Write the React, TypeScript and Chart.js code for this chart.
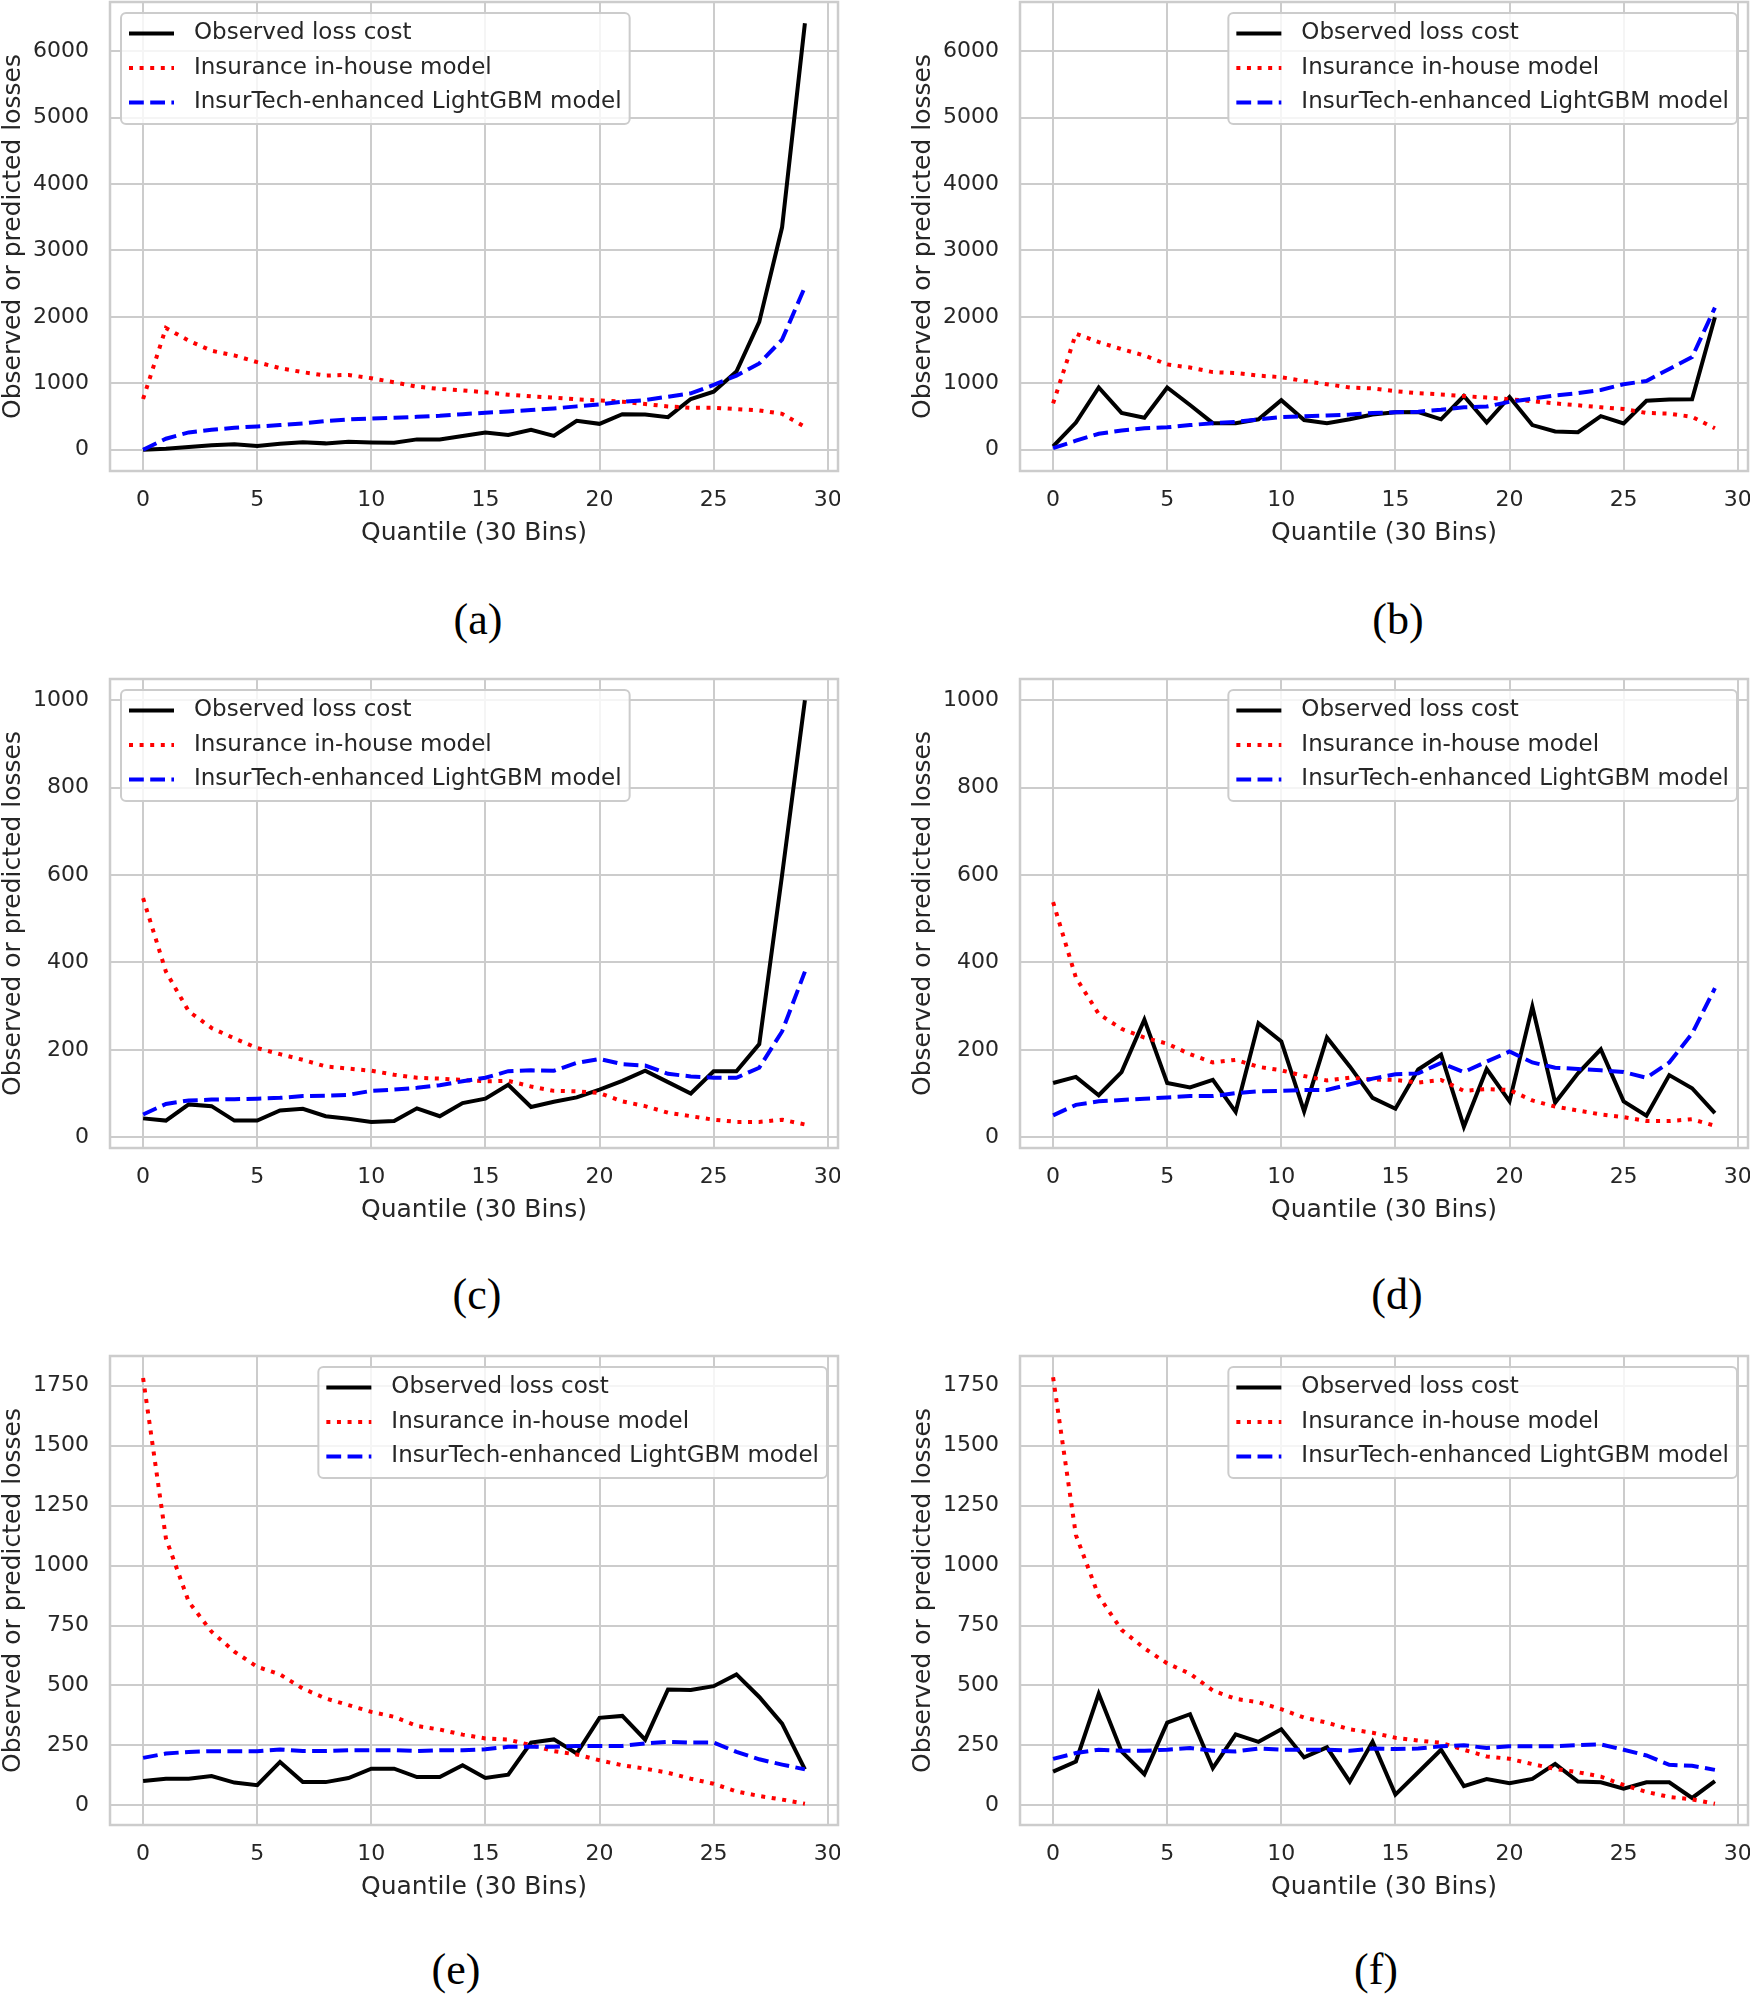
import React, { useEffect, useRef } from 'react';
import { Chart, registerables } from 'chart.js';

Chart.register(...registerables);

// ---------- data ----------
const QUANTILES = [0, 1, 2, 3, 4, 5, 6, 7, 8, 9, 10, 11, 12, 13, 14, 15, 16, 17, 18, 19, 20, 21, 22, 23, 24, 25, 26, 27, 28, 29];
const X_TICKS = [0, 5, 10, 15, 20, 25, 30];
const Y_TICKS_ROW1 = [0, 1000, 2000, 3000, 4000, 5000, 6000];
const Y_TICKS_ROW2 = [0, 200, 400, 600, 800, 1000];
const Y_TICKS_ROW3 = [0, 250, 500, 750, 1000, 1250, 1500, 1750];

const SERIES_LABELS = ['Observed loss cost', 'Insurance in-house model', 'InsurTech-enhanced LightGBM model'];
const CAPTIONS = ['(a)', '(b)', '(c)', '(d)', '(e)', '(f)'];

// (a)
const obsA = [0, 15, 40, 65, 80, 55, 90, 110, 95, 120, 110, 105, 155, 155, 205, 257, 222, 298, 207, 434, 389, 535, 530, 490, 763, 873, 1177, 1924, 3348, 6420];
const inhouseA = [763, 1833, 1641, 1490, 1419, 1318, 1227, 1167, 1116, 1126, 1076, 1015, 949, 914, 894, 864, 828, 803, 783, 758, 742, 722, 687, 652, 631, 631, 611, 591, 540, 343];
const lgbmA = [0, 165, 260, 300, 330, 350, 370, 395, 430, 455, 470, 480, 495, 510, 535, 556, 576, 596, 621, 652, 682, 722, 747, 798, 848, 975, 1116, 1298, 1657, 2449];
// (b)
const obsB = [50, 409, 937, 553, 481, 937, 673, 399, 399, 457, 745, 447, 399, 457, 529, 563, 567, 457, 808, 409, 793, 370, 274, 264, 505, 394, 736, 755, 760, 1995];
const inhouseB = [697, 1745, 1620, 1514, 1418, 1284, 1236, 1168, 1154, 1115, 1091, 1034, 986, 937, 923, 880, 851, 832, 808, 784, 760, 731, 697, 668, 639, 611, 553, 543, 495, 322];
const lgbmB = [24, 135, 240, 288, 322, 337, 370, 399, 418, 457, 490, 505, 514, 529, 553, 563, 572, 601, 639, 649, 721, 769, 817, 851, 899, 986, 1034, 1216, 1394, 2139];
// (c)
const obsC = [43, 38, 75, 71, 38, 38, 61, 65, 48, 42, 35, 37, 66, 48, 78, 88, 120, 69, 81, 91, 109, 129, 152, 126, 100, 151, 151, 213, 600, 1000];
const inhouseC = [547, 379, 288, 250, 226, 204, 190, 177, 162, 157, 152, 143, 136, 134, 131, 128, 129, 116, 106, 105, 101, 82, 71, 56, 48, 40, 35, 35, 40, 29];
const lgbmC = [52, 76, 84, 86, 87, 88, 90, 94, 95, 97, 106, 109, 113, 119, 128, 136, 151, 153, 152, 170, 179, 167, 164, 145, 139, 136, 136, 159, 242, 379];
// (d)
const obsD = [124, 138, 96, 149, 269, 124, 114, 131, 58, 261, 219, 59, 228, 162, 90, 65, 155, 189, 24, 156, 82, 299, 79, 146, 201, 82, 49, 142, 112, 55];
const inhouseD = [538, 365, 282, 248, 228, 214, 190, 171, 177, 161, 153, 140, 130, 136, 132, 131, 125, 131, 106, 110, 108, 84, 70, 61, 52, 46, 37, 37, 41, 26];
const lgbmD = [50, 74, 82, 85, 88, 91, 94, 94, 101, 105, 106, 108, 108, 121, 134, 144, 146, 170, 149, 173, 196, 171, 159, 156, 153, 149, 136, 171, 237, 341];
// (e)
const obsE = [102, 111, 111, 122, 95, 84, 181, 97, 97, 114, 153, 153, 118, 118, 167, 114, 128, 262, 275, 216, 365, 373, 274, 483, 481, 497, 546, 452, 341, 150];
const inhouseE = [1782, 1114, 849, 724, 641, 578, 546, 487, 446, 418, 390, 369, 331, 316, 295, 279, 274, 251, 226, 212, 188, 167, 153, 136, 111, 90, 58, 39, 24, 7];
const lgbmE = [198, 216, 223, 226, 226, 226, 233, 227, 227, 230, 230, 230, 227, 230, 230, 234, 244, 244, 244, 248, 248, 248, 258, 265, 262, 262, 223, 192, 170, 150];
// (f)
const obsF = [141, 183, 465, 225, 130, 345, 380, 155, 296, 265, 317, 200, 242, 99, 265, 45, 138, 232, 80, 110, 92, 110, 173, 99, 96, 70, 96, 96, 31, 101];
const inhouseF = [1785, 1127, 873, 732, 655, 592, 549, 479, 444, 430, 401, 366, 345, 317, 303, 282, 270, 261, 232, 204, 194, 172, 152, 138, 120, 85, 56, 35, 25, 7];
const lgbmF = [194, 218, 232, 228, 228, 232, 239, 228, 225, 237, 232, 232, 232, 228, 237, 235, 237, 246, 251, 239, 246, 246, 246, 251, 254, 232, 208, 169, 165, 148];

// ---------- style / layout ----------
const FONT = '"DejaVu Sans", "Liberation Sans", sans-serif';
const TEXT = '#262626';
const GRID = '#cccccc';
const LW = 4;
const CANVAS_W = 840;
const CANVAS_H = 580;
const ROW_TOPS = [0, 677, 1354];
const COL_LEFTS = [0, 910];
const CAPTION_X = [478, 1398, 477, 1397, 456, 1376];
const CAPTION_Y = [620, 1295, 1970];

function limits(arrs: number[][]): [number, number] {
  const all = arrs.flat();
  const lo = Math.min(...all);
  const hi = Math.max(...all);
  const m = (hi - lo) * 0.05;
  return [lo - m, hi + m];
}

const ROW_LIMITS = [
  limits([obsA, inhouseA, lgbmA, obsB, inhouseB, lgbmB]),
  limits([obsC, inhouseC, lgbmC, obsD, inhouseD, lgbmD]),
  limits([obsE, inhouseE, lgbmE, obsF, inhouseF, lgbmF]),
];
const ROW_TICKS = [Y_TICKS_ROW1, Y_TICKS_ROW2, Y_TICKS_ROW3];
const X_LIMITS: [number, number] = [
  QUANTILES[0] - (QUANTILES[QUANTILES.length - 1] - QUANTILES[0]) * 0.05,
  QUANTILES[QUANTILES.length - 1] + (QUANTILES[QUANTILES.length - 1] - QUANTILES[0]) * 0.05,
];

type PanelDef = { obs: number[]; inhouse: number[]; lgbm: number[]; row: number; col: number; loc: string };
const PANELS: PanelDef[] = [
  { obs: obsA, inhouse: inhouseA, lgbm: lgbmA, row: 0, col: 0, loc: 'upper left' },
  { obs: obsB, inhouse: inhouseB, lgbm: lgbmB, row: 0, col: 1, loc: 'upper right' },
  { obs: obsC, inhouse: inhouseC, lgbm: lgbmC, row: 1, col: 0, loc: 'upper left' },
  { obs: obsD, inhouse: inhouseD, lgbm: lgbmD, row: 1, col: 1, loc: 'upper right' },
  { obs: obsE, inhouse: inhouseE, lgbm: lgbmE, row: 2, col: 0, loc: 'upper right' },
  { obs: obsF, inhouse: inhouseF, lgbm: lgbmF, row: 2, col: 1, loc: 'upper right' },
];

// spines + matplotlib-style legend inside the axes
const mplDecor = {
  id: 'mplDecor',
  afterDatasetsDraw(chart: any, _args: any, opts: any) {
    const { ctx, chartArea: a } = chart;
    ctx.save();
    ctx.setLineDash([]);
    ctx.strokeStyle = GRID;
    ctx.lineWidth = 2.5;
    ctx.strokeRect(a.left, a.top, a.right - a.left, a.bottom - a.top);

    ctx.font = `23px ${FONT}`;
    const ds = chart.data.datasets;
    const maxW = Math.max(...ds.map((d: any) => ctx.measureText(d.label).width));
    const textX0 = 73;
    const bw = textX0 + maxW + 8;
    const bh = 111;
    const bx = opts.loc === 'upper left' ? a.left + 11 : a.right - 11 - bw;
    const by = a.top + 11;
    const r = 5;
    ctx.beginPath();
    ctx.moveTo(bx + r, by);
    ctx.lineTo(bx + bw - r, by);
    ctx.arcTo(bx + bw, by, bx + bw, by + r, r);
    ctx.lineTo(bx + bw, by + bh - r);
    ctx.arcTo(bx + bw, by + bh, bx + bw - r, by + bh, r);
    ctx.lineTo(bx + r, by + bh);
    ctx.arcTo(bx, by + bh, bx, by + bh - r, r);
    ctx.lineTo(bx, by + r);
    ctx.arcTo(bx, by, bx + r, by, r);
    ctx.closePath();
    ctx.fillStyle = 'rgba(255,255,255,0.8)';
    ctx.fill();
    ctx.strokeStyle = GRID;
    ctx.lineWidth = 2;
    ctx.stroke();

    ds.forEach((d: any, i: number) => {
      const y = by + 20.5 + i * 34.5;
      ctx.beginPath();
      ctx.setLineDash(d.borderDash || []);
      ctx.lineDashOffset = 0;
      ctx.lineCap = 'butt';
      ctx.strokeStyle = d.borderColor;
      ctx.lineWidth = d.borderWidth;
      ctx.moveTo(bx + 8, y);
      ctx.lineTo(bx + 53, y);
      ctx.stroke();
      ctx.setLineDash([]);
      ctx.fillStyle = TEXT;
      ctx.textBaseline = 'middle';
      ctx.textAlign = 'left';
      ctx.fillText(d.label, bx + textX0, y);
    });
    ctx.restore();
  },
};

function Panel({ def }: { def: PanelDef }) {
  const ref = useRef<HTMLCanvasElement | null>(null);
  useEffect(() => {
    if (!ref.current) return;
    const [yMin, yMax] = ROW_LIMITS[def.row];
    const yTicks = ROW_TICKS[def.row];
    const pts = (arr: number[]) => QUANTILES.map((q, i) => ({ x: q, y: arr[i] }));
    const chart = new Chart(ref.current, {
      type: 'line',
      data: {
        datasets: [
          { label: SERIES_LABELS[0], data: pts(def.obs), borderColor: '#000000', borderWidth: LW, pointRadius: 0, tension: 0, order: 3, fill: false },
          { label: SERIES_LABELS[1], data: pts(def.inhouse), borderColor: '#ff0000', borderWidth: LW, borderDash: [LW, LW * 1.65], pointRadius: 0, tension: 0, order: 2, fill: false },
          { label: SERIES_LABELS[2], data: pts(def.lgbm), borderColor: '#0000ff', borderWidth: LW, borderDash: [LW * 3.7, LW * 1.6], pointRadius: 0, tension: 0, order: 1, fill: false },
        ],
      },
      options: {
        animation: false,
        responsive: false,
        devicePixelRatio: 1,
        layout: { padding: { top: 2, right: 2, bottom: 0, left: 0 } },
        plugins: {
          legend: { display: false },
          tooltip: { enabled: false },
          // @ts-ignore
          mplDecor: { loc: def.loc },
        },
        scales: {
          x: {
            type: 'linear',
            min: X_LIMITS[0],
            max: X_LIMITS[1],
            afterBuildTicks: (s: any) => { s.ticks = X_TICKS.map((v) => ({ value: v })); },
            afterFit: (s: any) => {
              s.height = 109;
              s.paddingLeft = 0; s.paddingRight = 0; s.paddingTop = 0; s.paddingBottom = 0;
            },
            grid: { color: GRID, lineWidth: 2, drawTicks: false },
            border: { display: false },
            ticks: { autoSkip: false, maxRotation: 0, padding: 16, color: TEXT, font: { family: FONT, size: 22 }, callback: (v: any) => String(v) },
            title: { display: true, text: 'Quantile (30 Bins)', color: TEXT, font: { family: FONT, size: 25 }, padding: { top: 0, bottom: 32 } },
          },
          y: {
            type: 'linear',
            min: yMin,
            max: yMax,
            afterBuildTicks: (s: any) => { s.ticks = yTicks.map((v) => ({ value: v })); },
            afterFit: (s: any) => {
              s.width = 110;
              s.paddingLeft = 0; s.paddingRight = 0; s.paddingTop = 0; s.paddingBottom = 0;
            },
            grid: { color: GRID, lineWidth: 2, drawTicks: false },
            border: { display: false },
            ticks: { autoSkip: false, padding: 21, color: TEXT, font: { family: FONT, size: 22 }, callback: (v: any) => String(v) },
            title: { display: true, text: 'Observed or predicted losses', color: TEXT, font: { family: FONT, size: 25, lineHeight: 1.1 }, padding: { top: 0, bottom: 0 } },
          },
        },
      },
      plugins: [mplDecor as any],
    });
    return () => chart.destroy();
  }, [def]);
  return (
    <canvas
      ref={ref}
      width={CANVAS_W}
      height={CANVAS_H}
      style={{ position: 'absolute', left: COL_LEFTS[def.col], top: ROW_TOPS[def.row], width: CANVAS_W, height: CANVAS_H, display: 'block' }}
    />
  );
}

export default function App() {
  return (
    <div style={{ position: 'absolute', left: 0, top: 0, width: 1750, height: 1995, background: '#ffffff', overflow: 'hidden' }}>
      {PANELS.map((p, i) => (
        <Panel key={i} def={p} />
      ))}
      {CAPTIONS.map((c, i) => (
        <div
          key={c}
          style={{
            position: 'absolute',
            left: CAPTION_X[i] - 100,
            top: CAPTION_Y[Math.floor(i / 2)] - 24,
            width: 200,
            height: 48,
            lineHeight: '48px',
            textAlign: 'center',
            fontFamily: '"Liberation Serif", "DejaVu Serif", serif',
            fontSize: 44,
            color: '#000000',
          }}
        >
          {c}
        </div>
      ))}
    </div>
  );
}
